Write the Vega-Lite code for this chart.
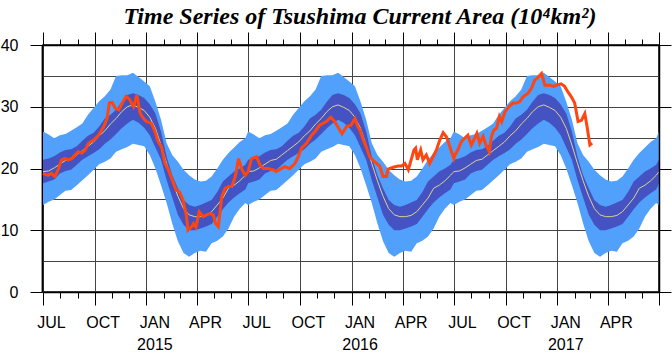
{
 "$schema": "https://vega.github.io/schema/vega-lite/v6.json",
 "width": 616, "height": 247,
 "autosize": "none",
 "padding": {"left": 43, "top": 45, "right": 13, "bottom": 62},
 "background": "white",
 "config": {"view": {"stroke": "#000", "strokeWidth": 1.5}, "font": "Liberation Sans"},
 "title": {"text": "Time Series of Tsushima Current Area (10⁴km²)", "font": "Liberation Serif", "fontSize": 24, "fontStyle": "italic", "fontWeight": "bold", "color": "#000", "anchor": "middle", "dx": 9, "offset": 3},
 "datasets": {
  "clim": [
   {"date":"2014-07-01","lo":14.1,"dlo":17.6,"m":19.5,"dhi":21.4,"hi":26.0},
   {"date":"2014-07-11","lo":14.6,"dlo":17.9,"m":19.6,"dhi":21.6,"hi":25.5},
   {"date":"2014-07-21","lo":15.0,"dlo":18.2,"m":20.1,"dhi":22.0,"hi":24.9},
   {"date":"2014-07-31","lo":15.7,"dlo":19.2,"m":20.7,"dhi":22.6,"hi":25.4},
   {"date":"2014-08-10","lo":16.4,"dlo":19.6,"m":21.3,"dhi":23.0,"hi":25.6},
   {"date":"2014-08-20","lo":16.5,"dlo":19.8,"m":21.5,"dhi":23.1,"hi":26.1},
   {"date":"2014-08-30","lo":17.3,"dlo":20.6,"m":22.2,"dhi":23.6,"hi":26.7},
   {"date":"2014-09-09","lo":18.1,"dlo":21.4,"m":22.9,"dhi":24.5,"hi":27.3},
   {"date":"2014-09-19","lo":18.9,"dlo":22.0,"m":23.6,"dhi":25.3,"hi":28.7},
   {"date":"2014-09-29","lo":19.8,"dlo":22.5,"m":24.3,"dhi":25.8,"hi":29.8},
   {"date":"2014-10-09","lo":20.7,"dlo":23.1,"m":25.3,"dhi":26.8,"hi":30.9},
   {"date":"2014-10-19","lo":21.1,"dlo":24.0,"m":26.1,"dhi":28.1,"hi":31.7},
   {"date":"2014-10-29","lo":21.6,"dlo":24.7,"m":27.2,"dhi":28.7,"hi":32.8},
   {"date":"2014-11-08","lo":22.7,"dlo":25.6,"m":28.1,"dhi":29.5,"hi":35.0},
   {"date":"2014-11-18","lo":23.1,"dlo":26.5,"m":29.2,"dhi":30.8,"hi":35.1},
   {"date":"2014-11-28","lo":23.5,"dlo":27.3,"m":30.0,"dhi":31.9,"hi":35.1},
   {"date":"2014-12-08","lo":24.0,"dlo":27.9,"m":30.3,"dhi":32.2,"hi":35.5},
   {"date":"2014-12-18","lo":23.8,"dlo":27.4,"m":29.9,"dhi":31.9,"hi":34.8},
   {"date":"2014-12-28","lo":23.6,"dlo":26.6,"m":29.4,"dhi":31.4,"hi":34.1},
   {"date":"2015-01-07","lo":22.2,"dlo":25.4,"m":28.3,"dhi":30.4,"hi":33.3},
   {"date":"2015-01-17","lo":20.0,"dlo":23.4,"m":26.5,"dhi":28.9,"hi":30.8},
   {"date":"2015-01-27","lo":17.3,"dlo":21.4,"m":23.8,"dhi":26.0,"hi":27.9},
   {"date":"2015-02-06","lo":14.4,"dlo":18.1,"m":20.8,"dhi":21.9,"hi":24.1},
   {"date":"2015-02-16","lo":11.1,"dlo":15.3,"m":18.0,"dhi":18.9,"hi":22.2},
   {"date":"2015-02-26","lo":8.2,"dlo":12.5,"m":15.5,"dhi":16.8,"hi":21.1},
   {"date":"2015-03-08","lo":6.3,"dlo":10.9,"m":13.5,"dhi":14.9,"hi":19.8},
   {"date":"2015-03-18","lo":5.7,"dlo":10.0,"m":12.5,"dhi":14.1,"hi":18.9},
   {"date":"2015-03-28","lo":6.3,"dlo":10.0,"m":12.2,"dhi":13.8,"hi":18.2},
   {"date":"2015-04-07","lo":6.7,"dlo":10.3,"m":12.2,"dhi":14.1,"hi":17.9},
   {"date":"2015-04-17","lo":6.5,"dlo":10.6,"m":12.4,"dhi":14.5,"hi":18.0},
   {"date":"2015-04-27","lo":7.9,"dlo":11.0,"m":13.0,"dhi":14.9,"hi":18.7},
   {"date":"2015-05-07","lo":8.3,"dlo":12.2,"m":14.1,"dhi":16.2,"hi":20.0},
   {"date":"2015-05-17","lo":9.0,"dlo":13.4,"m":15.2,"dhi":17.9,"hi":21.4},
   {"date":"2015-05-27","lo":10.3,"dlo":14.5,"m":16.8,"dhi":18.7,"hi":22.5},
   {"date":"2015-06-06","lo":12.2,"dlo":15.3,"m":17.3,"dhi":19.5,"hi":23.4},
   {"date":"2015-06-16","lo":13.5,"dlo":16.0,"m":18.0,"dhi":20.0,"hi":24.3},
   {"date":"2015-06-26","lo":14.4,"dlo":16.6,"m":18.9,"dhi":20.6,"hi":24.9},
   {"date":"2015-07-01","lo":14.1,"dlo":17.6,"m":19.5,"dhi":21.4,"hi":26.0},
   {"date":"2015-07-11","lo":14.6,"dlo":17.9,"m":19.6,"dhi":21.6,"hi":25.5},
   {"date":"2015-07-21","lo":15.0,"dlo":18.2,"m":20.1,"dhi":22.0,"hi":24.9},
   {"date":"2015-07-31","lo":15.7,"dlo":19.2,"m":20.7,"dhi":22.6,"hi":25.4},
   {"date":"2015-08-10","lo":16.4,"dlo":19.6,"m":21.3,"dhi":23.0,"hi":25.6},
   {"date":"2015-08-20","lo":16.5,"dlo":19.8,"m":21.5,"dhi":23.1,"hi":26.1},
   {"date":"2015-08-30","lo":17.3,"dlo":20.6,"m":22.2,"dhi":23.6,"hi":26.7},
   {"date":"2015-09-09","lo":18.1,"dlo":21.4,"m":22.9,"dhi":24.5,"hi":27.3},
   {"date":"2015-09-19","lo":18.9,"dlo":22.0,"m":23.6,"dhi":25.3,"hi":28.7},
   {"date":"2015-09-29","lo":19.8,"dlo":22.5,"m":24.3,"dhi":25.8,"hi":29.8},
   {"date":"2015-10-09","lo":20.7,"dlo":23.1,"m":25.3,"dhi":26.8,"hi":30.9},
   {"date":"2015-10-19","lo":21.1,"dlo":24.0,"m":26.1,"dhi":28.1,"hi":31.7},
   {"date":"2015-10-29","lo":21.6,"dlo":24.7,"m":27.2,"dhi":28.7,"hi":32.8},
   {"date":"2015-11-08","lo":22.7,"dlo":25.6,"m":28.1,"dhi":29.5,"hi":35.0},
   {"date":"2015-11-18","lo":23.1,"dlo":26.5,"m":29.2,"dhi":30.8,"hi":35.1},
   {"date":"2015-11-28","lo":23.5,"dlo":27.3,"m":30.0,"dhi":31.9,"hi":35.1},
   {"date":"2015-12-08","lo":24.0,"dlo":27.9,"m":30.3,"dhi":32.2,"hi":35.5},
   {"date":"2015-12-18","lo":23.8,"dlo":27.4,"m":29.9,"dhi":31.9,"hi":34.8},
   {"date":"2015-12-28","lo":23.6,"dlo":26.6,"m":29.4,"dhi":31.4,"hi":34.1},
   {"date":"2016-01-07","lo":22.2,"dlo":25.4,"m":28.3,"dhi":30.4,"hi":33.3},
   {"date":"2016-01-17","lo":20.0,"dlo":23.4,"m":26.5,"dhi":28.9,"hi":30.8},
   {"date":"2016-01-27","lo":17.3,"dlo":21.4,"m":23.8,"dhi":26.0,"hi":27.9},
   {"date":"2016-02-06","lo":14.4,"dlo":18.1,"m":20.8,"dhi":21.9,"hi":24.1},
   {"date":"2016-02-16","lo":11.1,"dlo":15.3,"m":18.0,"dhi":18.9,"hi":22.2},
   {"date":"2016-02-26","lo":8.2,"dlo":12.5,"m":15.5,"dhi":16.8,"hi":21.1},
   {"date":"2016-03-07","lo":6.3,"dlo":10.9,"m":13.5,"dhi":14.9,"hi":19.8},
   {"date":"2016-03-17","lo":5.7,"dlo":10.0,"m":12.5,"dhi":14.1,"hi":18.9},
   {"date":"2016-03-27","lo":6.3,"dlo":10.0,"m":12.2,"dhi":13.8,"hi":18.2},
   {"date":"2016-04-06","lo":6.7,"dlo":10.3,"m":12.2,"dhi":14.1,"hi":17.9},
   {"date":"2016-04-16","lo":6.5,"dlo":10.6,"m":12.4,"dhi":14.5,"hi":18.0},
   {"date":"2016-04-26","lo":7.9,"dlo":11.0,"m":13.0,"dhi":14.9,"hi":18.7},
   {"date":"2016-05-06","lo":8.3,"dlo":12.2,"m":14.1,"dhi":16.2,"hi":20.0},
   {"date":"2016-05-16","lo":9.0,"dlo":13.4,"m":15.2,"dhi":17.9,"hi":21.4},
   {"date":"2016-05-26","lo":10.3,"dlo":14.5,"m":16.8,"dhi":18.7,"hi":22.5},
   {"date":"2016-06-05","lo":12.2,"dlo":15.3,"m":17.3,"dhi":19.5,"hi":23.4},
   {"date":"2016-06-15","lo":13.5,"dlo":16.0,"m":18.0,"dhi":20.0,"hi":24.3},
   {"date":"2016-06-25","lo":14.4,"dlo":16.6,"m":18.9,"dhi":20.6,"hi":24.9},
   {"date":"2016-07-01","lo":14.1,"dlo":17.6,"m":19.5,"dhi":21.4,"hi":26.0},
   {"date":"2016-07-11","lo":14.6,"dlo":17.9,"m":19.6,"dhi":21.6,"hi":25.5},
   {"date":"2016-07-21","lo":15.0,"dlo":18.2,"m":20.1,"dhi":22.0,"hi":24.9},
   {"date":"2016-07-31","lo":15.7,"dlo":19.2,"m":20.7,"dhi":22.6,"hi":25.4},
   {"date":"2016-08-10","lo":16.4,"dlo":19.6,"m":21.3,"dhi":23.0,"hi":25.6},
   {"date":"2016-08-20","lo":16.5,"dlo":19.8,"m":21.5,"dhi":23.1,"hi":26.1},
   {"date":"2016-08-30","lo":17.3,"dlo":20.6,"m":22.2,"dhi":23.6,"hi":26.7},
   {"date":"2016-09-09","lo":18.1,"dlo":21.4,"m":22.9,"dhi":24.5,"hi":27.3},
   {"date":"2016-09-19","lo":18.9,"dlo":22.0,"m":23.6,"dhi":25.3,"hi":28.7},
   {"date":"2016-09-29","lo":19.8,"dlo":22.5,"m":24.3,"dhi":25.8,"hi":29.8},
   {"date":"2016-10-09","lo":20.7,"dlo":23.1,"m":25.3,"dhi":26.8,"hi":30.9},
   {"date":"2016-10-19","lo":21.1,"dlo":24.0,"m":26.1,"dhi":28.1,"hi":31.7},
   {"date":"2016-10-29","lo":21.6,"dlo":24.7,"m":27.2,"dhi":28.7,"hi":32.8},
   {"date":"2016-11-08","lo":22.7,"dlo":25.6,"m":28.1,"dhi":29.5,"hi":35.0},
   {"date":"2016-11-18","lo":23.1,"dlo":26.5,"m":29.2,"dhi":30.8,"hi":35.1},
   {"date":"2016-11-28","lo":23.5,"dlo":27.3,"m":30.0,"dhi":31.9,"hi":35.1},
   {"date":"2016-12-08","lo":24.0,"dlo":27.9,"m":30.3,"dhi":32.2,"hi":35.5},
   {"date":"2016-12-18","lo":23.8,"dlo":27.4,"m":29.9,"dhi":31.9,"hi":34.8},
   {"date":"2016-12-28","lo":23.6,"dlo":26.6,"m":29.4,"dhi":31.4,"hi":34.1},
   {"date":"2017-01-07","lo":22.2,"dlo":25.4,"m":28.3,"dhi":30.4,"hi":33.3},
   {"date":"2017-01-17","lo":20.0,"dlo":23.4,"m":26.5,"dhi":28.9,"hi":30.8},
   {"date":"2017-01-27","lo":17.3,"dlo":21.4,"m":23.8,"dhi":26.0,"hi":27.9},
   {"date":"2017-02-06","lo":14.4,"dlo":18.1,"m":20.8,"dhi":21.9,"hi":24.1},
   {"date":"2017-02-16","lo":11.1,"dlo":15.3,"m":18.0,"dhi":18.9,"hi":22.2},
   {"date":"2017-02-26","lo":8.2,"dlo":12.5,"m":15.5,"dhi":16.8,"hi":21.1},
   {"date":"2017-03-08","lo":6.3,"dlo":10.9,"m":13.5,"dhi":14.9,"hi":19.8},
   {"date":"2017-03-18","lo":5.7,"dlo":10.0,"m":12.5,"dhi":14.1,"hi":18.9},
   {"date":"2017-03-28","lo":6.3,"dlo":10.0,"m":12.2,"dhi":13.8,"hi":18.2},
   {"date":"2017-04-07","lo":6.7,"dlo":10.3,"m":12.2,"dhi":14.1,"hi":17.9},
   {"date":"2017-04-17","lo":6.5,"dlo":10.6,"m":12.4,"dhi":14.5,"hi":18.0},
   {"date":"2017-04-27","lo":7.9,"dlo":11.0,"m":13.0,"dhi":14.9,"hi":18.7},
   {"date":"2017-05-07","lo":8.3,"dlo":12.2,"m":14.1,"dhi":16.2,"hi":20.0},
   {"date":"2017-05-17","lo":9.0,"dlo":13.4,"m":15.2,"dhi":17.9,"hi":21.4},
   {"date":"2017-05-27","lo":10.3,"dlo":14.5,"m":16.8,"dhi":18.7,"hi":22.5},
   {"date":"2017-06-06","lo":12.2,"dlo":15.3,"m":17.3,"dhi":19.5,"hi":23.4},
   {"date":"2017-06-16","lo":13.5,"dlo":16.0,"m":18.0,"dhi":20.0,"hi":24.3},
   {"date":"2017-06-26","lo":14.4,"dlo":16.6,"m":18.9,"dhi":20.6,"hi":24.9},
   {"date":"2017-07-01","lo":14.1,"dlo":17.6,"m":19.5,"dhi":21.4,"hi":26.0}
  ],
  "obs": [
   {"date":"2014-07-01","v":19.2},{"date":"2014-07-10","v":18.9},{"date":"2014-07-16","v":19.2},{"date":"2014-07-22","v":18.7},
   {"date":"2014-07-28","v":19.8},{"date":"2014-08-03","v":21.4},{"date":"2014-08-09","v":21.6},{"date":"2014-08-15","v":21.4},
   {"date":"2014-08-21","v":21.6},{"date":"2014-08-27","v":22.2},{"date":"2014-09-02","v":22.7},{"date":"2014-09-08","v":22.5},
   {"date":"2014-09-14","v":23.0},{"date":"2014-09-20","v":24.1},{"date":"2014-09-29","v":24.6},{"date":"2014-10-08","v":25.4},
   {"date":"2014-10-17","v":26.8},{"date":"2014-10-23","v":28.1},{"date":"2014-10-27","v":30.6},{"date":"2014-11-01","v":30.7},
   {"date":"2014-11-07","v":29.7},{"date":"2014-11-13","v":29.5},{"date":"2014-11-19","v":30.6},{"date":"2014-11-26","v":31.7},
   {"date":"2014-12-02","v":31.2},{"date":"2014-12-09","v":30.0},{"date":"2014-12-15","v":31.9},{"date":"2014-12-21","v":28.9},
   {"date":"2014-12-27","v":28.1},{"date":"2015-01-01","v":27.6},{"date":"2015-01-10","v":27.3},{"date":"2015-01-16","v":26.0},
   {"date":"2015-01-22","v":24.3},{"date":"2015-01-28","v":23.5},{"date":"2015-02-03","v":20.8},{"date":"2015-02-09","v":19.8},
   {"date":"2015-02-17","v":17.9},{"date":"2015-02-23","v":16.5},{"date":"2015-03-01","v":16.2},{"date":"2015-03-07","v":14.9},
   {"date":"2015-03-13","v":12.5},{"date":"2015-03-16","v":10.0},{"date":"2015-03-22","v":10.5},{"date":"2015-03-26","v":11.1},
   {"date":"2015-03-30","v":10.5},{"date":"2015-04-05","v":13.0},{"date":"2015-04-12","v":12.2},{"date":"2015-04-18","v":12.5},
   {"date":"2015-04-24","v":12.7},{"date":"2015-04-30","v":12.5},{"date":"2015-05-04","v":11.1},{"date":"2015-05-09","v":10.6},
   {"date":"2015-05-15","v":15.4},{"date":"2015-05-21","v":16.8},{"date":"2015-05-27","v":17.1},{"date":"2015-06-02","v":17.1},
   {"date":"2015-06-08","v":18.7},{"date":"2015-06-14","v":21.6},{"date":"2015-06-20","v":19.8},{"date":"2015-06-26","v":18.9},
   {"date":"2015-07-01","v":19.5},{"date":"2015-07-07","v":21.6},{"date":"2015-07-16","v":21.9},{"date":"2015-07-22","v":20.6},
   {"date":"2015-07-28","v":20.0},{"date":"2015-08-05","v":20.0},{"date":"2015-08-14","v":19.8},{"date":"2015-08-20","v":19.5},
   {"date":"2015-08-29","v":20.0},{"date":"2015-09-04","v":20.3},{"date":"2015-09-13","v":20.0},{"date":"2015-09-22","v":20.8},
   {"date":"2015-09-28","v":21.9},{"date":"2015-10-04","v":23.3},{"date":"2015-10-13","v":24.1},{"date":"2015-10-22","v":25.4},
   {"date":"2015-10-28","v":26.0},{"date":"2015-11-05","v":27.0},{"date":"2015-11-11","v":27.3},{"date":"2015-11-17","v":27.6},
   {"date":"2015-11-25","v":28.3},{"date":"2015-12-02","v":27.6},{"date":"2015-12-09","v":26.5},{"date":"2015-12-15","v":25.6},
   {"date":"2015-12-23","v":26.8},{"date":"2015-12-31","v":27.0},{"date":"2016-01-07","v":28.1},{"date":"2016-01-12","v":26.8},
   {"date":"2016-01-16","v":26.2},{"date":"2016-01-22","v":24.6},{"date":"2016-01-28","v":23.3},{"date":"2016-02-02","v":21.9},
   {"date":"2016-02-11","v":21.1},{"date":"2016-02-20","v":20.4},{"date":"2016-02-26","v":18.7},{"date":"2016-03-03","v":18.7},
   {"date":"2016-03-06","v":19.9},{"date":"2016-03-15","v":20.2},{"date":"2016-03-24","v":20.4},{"date":"2016-03-30","v":20.4},
   {"date":"2016-04-05","v":20.8},{"date":"2016-04-11","v":19.8},{"date":"2016-04-16","v":21.4},{"date":"2016-04-21","v":23.0},
   {"date":"2016-04-24","v":23.3},{"date":"2016-04-27","v":21.4},{"date":"2016-05-03","v":23.0},{"date":"2016-05-07","v":21.4},
   {"date":"2016-05-13","v":22.2},{"date":"2016-05-19","v":20.8},{"date":"2016-05-25","v":21.9},{"date":"2016-05-31","v":23.0},
   {"date":"2016-06-06","v":24.6},{"date":"2016-06-12","v":25.8},{"date":"2016-06-18","v":25.1},{"date":"2016-06-24","v":23.5},
   {"date":"2016-07-01","v":21.6},{"date":"2016-07-03","v":22.2},{"date":"2016-07-08","v":23.0},{"date":"2016-07-14","v":24.3},
   {"date":"2016-07-20","v":24.9},{"date":"2016-07-26","v":25.4},{"date":"2016-08-01","v":23.8},{"date":"2016-08-07","v":24.9},
   {"date":"2016-08-11","v":25.7},{"date":"2016-08-16","v":24.1},{"date":"2016-08-22","v":25.2},{"date":"2016-08-27","v":23.8},
   {"date":"2016-09-02","v":22.7},{"date":"2016-09-06","v":25.2},{"date":"2016-09-10","v":26.2},{"date":"2016-09-15","v":26.5},
   {"date":"2016-09-20","v":28.4},{"date":"2016-09-24","v":27.6},{"date":"2016-09-30","v":29.2},{"date":"2016-10-07","v":30.0},
   {"date":"2016-10-14","v":30.6},{"date":"2016-10-20","v":30.6},{"date":"2016-10-26","v":30.8},{"date":"2016-11-01","v":31.6},
   {"date":"2016-11-10","v":32.2},{"date":"2016-11-16","v":33.0},{"date":"2016-11-22","v":34.3},{"date":"2016-11-26","v":34.6},
   {"date":"2016-12-04","v":35.4},{"date":"2016-12-10","v":33.5},{"date":"2016-12-19","v":33.5},{"date":"2016-12-25","v":33.3},
   {"date":"2016-12-31","v":33.5},{"date":"2017-01-08","v":33.7},{"date":"2017-01-14","v":33.3},{"date":"2017-01-20","v":32.4},
   {"date":"2017-01-26","v":31.6},{"date":"2017-02-01","v":30.6},{"date":"2017-02-07","v":27.6},{"date":"2017-02-13","v":27.8},
   {"date":"2017-02-19","v":28.9},{"date":"2017-02-23","v":26.8},{"date":"2017-02-28","v":23.8},{"date":"2017-03-04","v":24.1}
  ]
 },
 "layer": [
  {
   "data": {"name": "clim"},
   "mark": {"type": "area", "color": "#50a0fc", "opacity": 1},
   "encoding": {
    "x": {"field": "date", "type": "temporal",
     "scale": {"type": "utc", "domain": [{"year": 2014, "month": 7, "date": 1, "utc": true}, {"year": 2017, "month": 7, "date": 1, "utc": true}]},
     "axis": {"orient": "bottom", "title": null, "tickCount": {"interval": "month", "step": 1},
      "grid": true, "gridColor": "#444", "gridWidth": 1,
      "gridOpacity": {"condition": {"test": "utcmonth(datum.value) % 3 == 0", "value": 1}, "value": 0},
      "tickSize": {"condition": {"test": "utcmonth(datum.value) % 3 == 0", "value": 13}, "value": 6},
      "tickColor": "#000", "tickWidth": 1,
      "labelExpr": "utcyear(datum.value) == 2017 && utcmonth(datum.value) == 6 ? '' : utcmonth(datum.value) == 0 ? ['JAN', '' + utcyear(datum.value)] : utcmonth(datum.value) == 3 ? 'APR' : utcmonth(datum.value) == 6 ? 'JUL' : utcmonth(datum.value) == 9 ? 'OCT' : ''",
      "labelOffset": 8, "labelOverlap": false, "labelFlush": false, "labelBound": false,
      "labelFont": "Liberation Sans", "labelFontSize": 16, "labelColor": "#000", "labelPadding": 9, "labelLineHeight": 22,
      "domainColor": "#000", "domainWidth": 1.5, "zindex": 0}},
    "y": {"field": "lo", "type": "quantitative",
     "scale": {"domain": [0, 40], "nice": false},
     "axis": {"orient": "left", "title": null, "values": [0, 5, 10, 15, 20, 25, 30, 35, 40], "offset": 1,
      "grid": true, "gridColor": "#444", "gridWidth": 1,
      "gridOpacity": {"condition": {"test": "datum.value == 0 || datum.value == 40", "value": 0}, "value": 1},
      "tickSize": {"condition": {"test": "datum.value % 10 == 0", "value": 12}, "value": 0},
      "tickColor": "#000",
      "labelExpr": "datum.value % 10 == 0 ? datum.label : ''",
      "labelFont": "Liberation Sans", "labelFontSize": 16, "labelColor": "#000", "labelPadding": 12,
      "domainColor": "#000", "domainWidth": 1.8, "zindex": 0}},
    "y2": {"field": "hi"}
   }
  },
  {
   "data": {"name": "clim"},
   "mark": {"type": "area", "color": "#4452c2", "opacity": 1},
   "encoding": {
    "x": {"field": "date", "type": "temporal", "axis": null},
    "y": {"field": "dlo", "type": "quantitative", "axis": null},
    "y2": {"field": "dhi"}
   }
  },
  {
   "data": {"name": "clim"},
   "mark": {"type": "line", "color": "#dcd28e", "strokeWidth": 1},
   "encoding": {
    "x": {"field": "date", "type": "temporal", "axis": null},
    "y": {"field": "m", "type": "quantitative", "axis": null}
   }
  },
  {
   "data": {"name": "obs"},
   "mark": {"type": "line", "color": "#ff4510", "strokeWidth": 3, "strokeJoin": "miter"},
   "encoding": {
    "x": {"field": "date", "type": "temporal",
     "axis": {"orient": "top", "title": null, "tickCount": {"interval": "month", "step": 1}, "labels": false, "grid": false,
      "tickSize": {"condition": {"test": "utcmonth(datum.value) % 3 == 0", "value": 13}, "value": 6},
      "tickColor": "#000", "domainColor": "#000", "domainWidth": 1.5, "zindex": 1}},
    "y": {"field": "v", "type": "quantitative",
     "axis": {"orient": "right", "title": null, "values": [0, 10, 20, 30, 40], "labels": false, "grid": false,
      "tickSize": 12, "tickColor": "#000", "domainColor": "#000", "domainWidth": 1.5, "zindex": 1}}
   }
  }
 ],
 "resolve": {"axis": {"x": "independent", "y": "independent"}}
}
